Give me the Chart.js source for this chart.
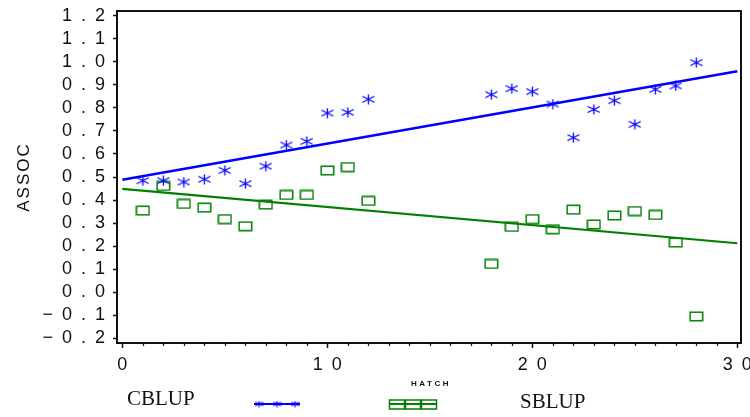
<!DOCTYPE html>
<html>
<head>
<meta charset="utf-8">
<script src="https://cdn.jsdelivr.net/npm/chart.js@4/dist/chart.umd.min.js"></script>
<style>
html,body{margin:0;padding:0;background:#fff;}
#c{display:block;}
</style>
</head>
<body>
<canvas id="c" width="750" height="417"></canvas>
<script>
// ---- data ----
const hatch = [1,2,3,4,5,6,7,8,9,10,11,12,18,19,20,21,22,23,24,25,26,27,28];
const cblup = [0.484,0.484,0.478,0.490,0.529,0.471,0.547,0.639,0.655,0.778,0.781,0.838,0.858,0.884,0.871,0.817,0.671,0.794,0.832,0.729,0.881,0.896,0.997];
const sblup = [0.354,0.461,0.383,0.367,0.317,0.286,0.380,0.422,0.422,0.528,0.543,0.396,0.122,0.283,0.317,0.273,0.358,0.294,0.333,0.352,0.335,0.215,-0.106];
const fitX = [0, 30];
const cblupFit = [0.488, 0.960];
const sblupFit = [0.448, 0.212];
const xTickValues = [0, 10, 20, 30];
const xTickLabels = ['0', '10', '20', '30'];
const yTickValues = [-0.2,-0.1,0.0,0.1,0.2,0.3,0.4,0.5,0.6,0.7,0.8,0.9,1.0,1.1,1.2];
const yTickLabels = ['\u22120.2','\u22120.1','0.0','0.1','0.2','0.3','0.4','0.5','0.6','0.7','0.8','0.9','1.0','1.1','1.2'];
const seriesNames = ['CBLUP', 'SBLUP'];
const legendTitle = 'HATCH';
const yAxisTitle = 'ASSOC';

const BLUE = '#0000ff';
const GREEN = '#008000';
const spaced = s => s.split('').join('\u2002');

function asteriskCanvas(w, h, lw) {
  const c = document.createElement('canvas');
  c.width = w; c.height = h;
  const g = c.getContext('2d');
  g.strokeStyle = BLUE; g.lineWidth = lw;
  const cx = w / 2, cy = h / 2, rx = w / 2 - 0.5, ry = h / 2 - 0.5;
  g.beginPath();
  g.moveTo(cx, cy - ry); g.lineTo(cx, cy + ry);
  g.moveTo(cx - rx, cy - ry * 0.6); g.lineTo(cx + rx, cy + ry * 0.6);
  g.moveTo(cx - rx, cy + ry * 0.6); g.lineTo(cx + rx, cy - ry * 0.6);
  g.stroke();
  return c;
}
function boxCanvas(w, h, lw) {
  const c = document.createElement('canvas');
  c.width = w; c.height = h;
  const g = c.getContext('2d');
  g.strokeStyle = GREEN; g.lineWidth = lw;
  g.strokeRect(lw / 2 + 0.5, lw / 2 + 0.5, w - lw - 1, h - lw - 1);
  return c;
}
const starImg = asteriskCanvas(13, 11, 1.3);
const boxImg = boxCanvas(15, 11, 1.5);

const framePlugin = {
  id: 'frame',
  afterDraw(chart) {
    const g = chart.ctx, a = chart.chartArea;
    const xs = chart.scales.x;
    g.save();
    g.strokeStyle = '#111';
    g.lineWidth = 2;
    g.strokeRect(a.left, a.top, a.right - a.left, a.bottom - a.top);
    // minor ticks on x
    g.lineWidth = 1.2;
    g.beginPath();
    for (let v = 0; v <= 30; v++) {
      if (v % 10 === 0) continue;
      const px = Math.round(xs.getPixelForValue(v)) + 0.5;
      g.moveTo(px, a.bottom); g.lineTo(px, a.bottom + 3);
    }
    g.stroke();
    // y axis title
    g.fillStyle = '#111';
    g.font = '17px "Liberation Sans", Arial, sans-serif';
    g.letterSpacing = '2px';
    g.textAlign = 'center';
    g.textBaseline = 'middle';
    g.translate(24, 177);
    g.rotate(-Math.PI / 2);
    g.fillText(yAxisTitle, 0, 0);
    g.restore();

    // legend
    g.save();
    g.fillStyle = '#111';
    g.font = '21px "Liberation Serif", "Times New Roman", serif';
    g.textBaseline = 'alphabetic';
    g.textAlign = 'left';
    g.fillText(seriesNames[0], 127, 405);
    g.fillText(seriesNames[1], 520, 408);
    g.font = 'bold 8px "Liberation Sans", Arial, sans-serif';
    g.letterSpacing = '2.5px';
    g.textAlign = 'center';
    g.textBaseline = 'middle';
    g.fillText(legendTitle, 431, 384);
    g.letterSpacing = '0px';
    // blue symbol
    g.strokeStyle = BLUE; g.lineWidth = 2;
    g.beginPath(); g.moveTo(254, 404); g.lineTo(300, 404); g.stroke();
    const smallStar = asteriskCanvas(9, 7, 1.2);
    [259, 277, 295].forEach(x => g.drawImage(smallStar, x - 4.5, 404 - 3.5));
    // green symbol
    g.strokeStyle = GREEN; g.lineWidth = 2;
    g.beginPath(); g.moveTo(389, 404); g.lineTo(436, 404); g.stroke();
    g.lineWidth = 1.5;
    [389, 405, 421].forEach(x => g.strokeRect(x + 0.5, 400, 15, 9));
    g.restore();
  }
};

const tickFont = { family: '"Liberation Sans", Arial, sans-serif', size: 18 };

new Chart(document.getElementById('c'), {
  type: 'scatter',
  data: {
    datasets: [
      { label: seriesNames[0], data: hatch.map((x, i) => ({ x, y: cblup[i] })),
        pointStyle: starImg, borderColor: BLUE, backgroundColor: BLUE, showLine: false },
      { label: seriesNames[1], data: hatch.map((x, i) => ({ x, y: sblup[i] })),
        pointStyle: boxImg, borderColor: GREEN, backgroundColor: GREEN, showLine: false },
      { type: 'line', label: 'fit1', data: fitX.map((x, i) => ({ x, y: cblupFit[i] })),
        borderColor: BLUE, borderWidth: 2.5, pointRadius: 0, fill: false },
      { type: 'line', label: 'fit2', data: fitX.map((x, i) => ({ x, y: sblupFit[i] })),
        borderColor: GREEN, borderWidth: 2.2, pointRadius: 0, fill: false }
    ]
  },
  options: {
    responsive: false,
    animation: false,
    devicePixelRatio: 1,
    layout: { padding: { left: 0, top: 11, right: 9, bottom: 0 } },
    plugins: { legend: { display: false }, tooltip: { enabled: false } },
    scales: {
      x: {
        type: 'linear', min: -0.26, max: 30.18,
        afterBuildTicks: ax => { ax.ticks = xTickValues.map(v => ({ value: v })); },
        afterFit: s => { s.height = 74; s.paddingLeft = 0; s.paddingRight = 0; },
        ticks: { callback: (v, i) => spaced(xTickLabels[i]), font: tickFont, color: '#111',
                 padding: 6, maxRotation: 0, autoSkip: false },
        grid: { drawOnChartArea: false, tickLength: 5, tickColor: '#111', tickWidth: 1.5 },
        border: { color: '#111', width: 2 }
      },
      y: {
        type: 'linear', min: -0.2217, max: 1.2217,
        afterBuildTicks: ax => { ax.ticks = yTickValues.map(v => ({ value: v })); },
        afterFit: s => { s.width = 117; s.paddingTop = 0; s.paddingBottom = 0; },
        ticks: { callback: (v, i) => spaced(yTickLabels[i]), font: tickFont, color: '#111',
                 padding: 8, autoSkip: false },
        grid: { drawOnChartArea: false, tickLength: 4, tickColor: '#111', tickWidth: 1.5 },
        border: { color: '#111', width: 2 }
      }
    }
  },
  plugins: [framePlugin]
});
</script>
</body>
</html>
